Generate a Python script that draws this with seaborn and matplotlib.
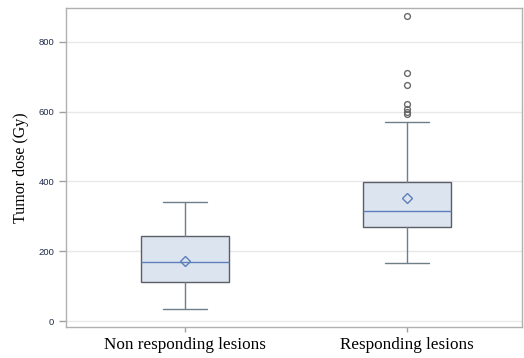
import matplotlib
matplotlib.use("Agg")
import matplotlib.pyplot as plt
import seaborn as sns

# Summary statistics of tumour dose (Gy) per lesion group
groups = ["Non responding lesions", "Responding lesions"]
whisker_low = [34, 166]
q1 = [112, 270]
median = [169, 315]
q3 = [244, 399]
whisker_high = [341, 571]
mean = [173, 353]
outliers = [[], [594, 598, 609, 622, 675, 711, 875]]
y_ticks = [0, 200, 400, 600, 800]

sns.set_theme(style="whitegrid")
plt.rcParams["font.family"] = ["Liberation Sans", "DejaVu Sans"]

fig = plt.figure(figsize=(5.24, 3.58), dpi=100)
ax = fig.add_axes([66 / 524, 31 / 358, 456 / 524, 319 / 358])

stats = []
for i, name in enumerate(groups):
    stats.append(dict(label=name, whislo=whisker_low[i], q1=q1[i], med=median[i],
                      q3=q3[i], whishi=whisker_high[i], mean=mean[i],
                      fliers=outliers[i]))

ax.bxp(stats, positions=range(len(groups)), widths=0.40, capwidths=0.20,
       patch_artist=True, showmeans=True, showfliers=True,
       boxprops=dict(facecolor="#dce4f0", edgecolor="#5a5f66", linewidth=1.0),
       medianprops=dict(color="#5d7fb8", linewidth=1.0),
       whiskerprops=dict(color="#6e7f89", linewidth=1.0),
       capprops=dict(color="#6e7f89", linewidth=1.0),
       meanprops=dict(marker="D", markerfacecolor="none", markeredgecolor="#5d7fb8",
                      markersize=5, markeredgewidth=1.0),
       flierprops=dict(marker="o", markerfacecolor="none", markeredgecolor="#6a6a6a",
                       markersize=4.2, markeredgewidth=1.0))

ax.set_xlim(-0.536, 1.518)
ax.set_ylim(-17, 897)
ax.set_yticks(y_ticks)
ax.set_yticklabels([str(v) for v in y_ticks])
ax.set_xticks(range(len(groups)))
ax.set_xticklabels(groups, family=["Liberation Serif"], fontsize=12.3, color="black")

ax.grid(axis="y", color="#e8e8e8", linewidth=1.0)
ax.grid(axis="x", visible=False)
for side in ax.spines.values():
    side.set_color("#b0b0b0")
    side.set_linewidth(1.0)

ax.tick_params(axis="y", labelsize=6.8, labelcolor="#1e2a48", length=5,
               color="#a0a0a0", width=1.0, pad=3.5, left=True)
ax.tick_params(axis="x", length=3.5, color="#a0a0a0", width=1.0, pad=4, bottom=True)

ax.set_ylabel("Tumor dose (Gy)", family=["Liberation Serif"], fontsize=11.5,
              color="black", labelpad=7)
ax.set_xlabel("")

fig.savefig("out.png", dpi=100)
